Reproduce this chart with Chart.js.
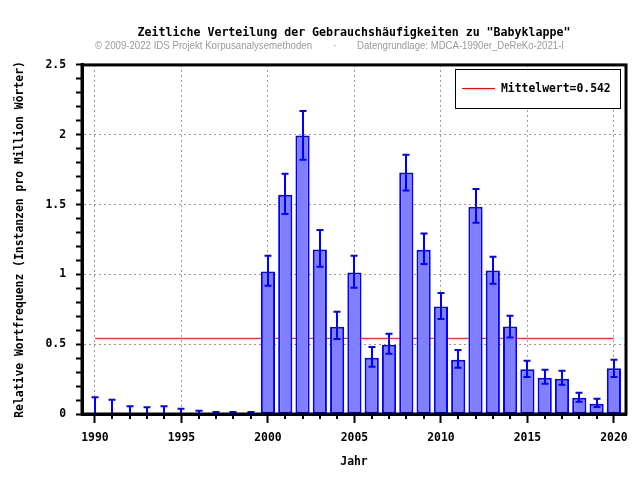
<!DOCTYPE html>
<html>
<head>
<meta charset="utf-8">
<title>Babyklappe</title>
<script src="https://cdn.jsdelivr.net/npm/chart.js@4.4.0/dist/chart.umd.min.js"></script>
<style>
  html, body { margin: 0; padding: 0; background: #fff; }
  #wrap { width: 640px; height: 480px; }
</style>
</head>
<body>
<div id="wrap"><canvas id="chart" width="640" height="480"></canvas></div>
<script>
(function() {
  'use strict';

  // ── Data ──
  var years = [1990, 1991, 1992, 1993, 1994, 1995, 1996, 1997, 1998, 1999,
               2000, 2001, 2002, 2003, 2004, 2005, 2006, 2007, 2008, 2009,
               2010, 2011, 2012, 2013, 2014, 2015, 2016, 2017, 2018, 2019, 2020];
  var freq = [0, 0, 0, 0, 0, 0, 0, 0, 0, 0,
              1.02, 1.57, 1.995, 1.178, 0.625, 1.013, 0.403, 0.496, 1.729, 1.177,
              0.769, 0.389, 1.485, 1.027, 0.626, 0.32, 0.26, 0.253, 0.117, 0.074, 0.327];
  var ciLow = [0, 0, 0, 0, 0, 0, 0, 0, 0, 0,
               0.919, 1.433, 1.82, 1.055, 0.537, 0.905, 0.339, 0.432, 1.6, 1.074,
               0.681, 0.332, 1.37, 0.933, 0.547, 0.265, 0.217, 0.21, 0.088, 0.05, 0.265];
  var ciHigh = [0.12, 0.102, 0.055, 0.048, 0.055, 0.038, 0.024, 0.014, 0.014, 0.014,
                1.134, 1.721, 2.17, 1.318, 0.733, 1.134, 0.48, 0.575, 1.857, 1.292,
                0.867, 0.458, 1.612, 1.127, 0.704, 0.382, 0.317, 0.31, 0.153, 0.11, 0.389];
  var mean = 0.542;
  var yTickLabels = [0, 0.5, 1, 1.5, 2, 2.5];
  var xTickLabels = [1990, 1995, 2000, 2005, 2010, 2015, 2020];

  var titleText = 'Zeitliche Verteilung der Gebrauchshäufigkeiten zu "Babyklappe"';
  var creditText = '© 2009-2022 IDS Projekt Korpusanalysemethoden';
  var sourceText = 'Datengrundlage: MDCA-1990er_DeReKo-2021-I';
  var yTitle = 'Relative Wortfrequenz (Instanzen pro Million Wörter)';
  var xTitle = 'Jahr';

  var MONO = "'DejaVu Sans Mono', monospace";

  function near(list, v) {
    return list.some(function(t) { return Math.abs(t - v) < 1e-6; });
  }

  // ── Plugins ──
  var errorBars = {
    id: 'errorBars',
    afterDatasetsDraw: function(chart) {
      var x = chart.scales.x, y = chart.scales.y, ctx = chart.ctx;
      ctx.save();
      ctx.strokeStyle = '#0000ff';
      ctx.lineWidth = 2;
      years.forEach(function(yr, i) {
        var px = Math.round(x.getPixelForValue(yr));
        var top = y.getPixelForValue(ciHigh[i]);
        var bot = y.getPixelForValue(ciLow[i]);
        ctx.beginPath();
        ctx.moveTo(px, top); ctx.lineTo(px, bot);
        ctx.moveTo(px - 3.5, top); ctx.lineTo(px + 3.5, top);
        ctx.moveTo(px - 3.5, bot); ctx.lineTo(px + 3.5, bot);
        ctx.stroke();
      });
      ctx.restore();
    }
  };

  var decorations = {
    id: 'decorations',
    afterDraw: function(chart) {
      var ctx = chart.ctx, a = chart.chartArea, x = chart.scales.x;
      ctx.save();

      // minor year ticks
      ctx.strokeStyle = '#000';
      ctx.lineWidth = 2;
      years.forEach(function(yr) {
        if (near(xTickLabels, yr)) return;
        var px = Math.round(x.getPixelForValue(yr));
        ctx.beginPath();
        ctx.moveTo(px, a.bottom); ctx.lineTo(px, a.bottom + 5);
        ctx.stroke();
      });

      // frame
      ctx.lineWidth = 3;
      ctx.strokeRect(a.left, a.top, a.right - a.left, a.bottom - a.top);

      // subtitle
      ctx.fillStyle = '#999';
      ctx.font = "11px 'Liberation Sans', Arial, sans-serif";
      ctx.textBaseline = 'middle';
      ctx.textAlign = 'left';
      ctx.fillText(creditText, 95, 46, 217);
      ctx.fillText('·', 333, 46);
      ctx.fillText(sourceText, 357, 46, 207);

      // legend
      var lx = 455.5, ly = 69.5, lw = 165, lh = 39;
      ctx.fillStyle = '#fff';
      ctx.fillRect(lx, ly, lw, lh);
      ctx.strokeStyle = '#000';
      ctx.lineWidth = 1;
      ctx.strokeRect(lx, ly, lw, lh);
      ctx.strokeStyle = '#ff0000';
      ctx.beginPath();
      ctx.moveTo(462, 88.5); ctx.lineTo(495, 88.5);
      ctx.stroke();
      ctx.fillStyle = '#000';
      ctx.font = 'bold 11.4px ' + MONO;
      ctx.fillText('Mittelwert=' + mean, 501, 89);

      ctx.restore();
    }
  };

  // ── Chart ──
  Chart.defaults.font.family = MONO;
  Chart.defaults.font.size = 11.4;
  Chart.defaults.font.weight = 'bold';
  Chart.defaults.color = '#000';

  new Chart(document.getElementById('chart'), {
    type: 'bar',
    data: {
      datasets: [{
        type: 'bar',
        label: 'Frequenz',
        data: years.map(function(yr, i) { return { x: yr, y: freq[i] }; }),
        backgroundColor: '#8080ff',
        borderColor: '#0000ff',
        borderWidth: 2,
        borderSkipped: false,
        barPercentage: 0.82,
        categoryPercentage: 1,
        order: 1
      }, {
        type: 'line',
        label: 'Mittelwert',
        data: [{ x: years[0], y: mean }, { x: years[years.length - 1], y: mean }],
        borderColor: '#ff0000',
        borderWidth: 1,
        pointRadius: 0,
        order: 2
      }]
    },
    options: {
      responsive: false,
      animation: false,
      layout: { padding: { left: 0, right: 14, top: 0, bottom: 0 } },
      plugins: {
        legend: { display: false },
        tooltip: { enabled: false },
        title: {
          display: true,
          text: titleText,
          fullSize: false,
          color: '#000',
          font: { family: MONO, size: 11.6, weight: 'bold' },
          padding: { top: 26, bottom: 25 }
        }
      },
      scales: {
        x: {
          type: 'linear',
          min: 1989.25,
          max: 2020.7,
          offset: false,
          afterFit: function(scale) { scale.height = 66; },
          grid: {
            offset: false,
            color: function(c) { return near(xTickLabels, c.tick.value) ? '#999' : 'rgba(0,0,0,0)'; },
            tickColor: function(c) { return near(xTickLabels, c.tick.value) ? '#000' : 'rgba(0,0,0,0)'; },
            tickLength: 9,
            tickWidth: 2,
            lineWidth: 1
          },
          border: { display: true, color: '#000', width: 3, dash: [2, 3] },
          ticks: {
            stepSize: 1,
            includeBounds: false,
            autoSkip: false,
            maxRotation: 0,
            padding: 8,
            callback: function(v) { return near(xTickLabels, v) ? String(Math.round(v)) : ''; }
          },
          title: { display: true, text: xTitle, padding: { top: 0, bottom: 11 } }
        },
        y: {
          min: 0,
          max: 2.5,
          afterFit: function(scale) { scale.width = 82; },
          grid: {
            color: function(c) { return near(yTickLabels, c.tick.value) && c.tick.value > 0 ? '#999' : 'rgba(0,0,0,0)'; },
            tickColor: '#000',
            tickLength: 6,
            tickWidth: 2,
            lineWidth: 1
          },
          border: { display: true, color: '#000', width: 3, dash: [2, 3] },
          ticks: {
            stepSize: 0.1,
            autoSkip: false,
            padding: 10,
            callback: function(v) { return near(yTickLabels, v) ? String(Math.round(v * 10) / 10) : ''; }
          },
          title: { display: true, text: yTitle, padding: { top: 13, bottom: 0 } }
        }
      }
    },
    plugins: [errorBars, decorations]
  });
})();
</script>
</body>
</html>
